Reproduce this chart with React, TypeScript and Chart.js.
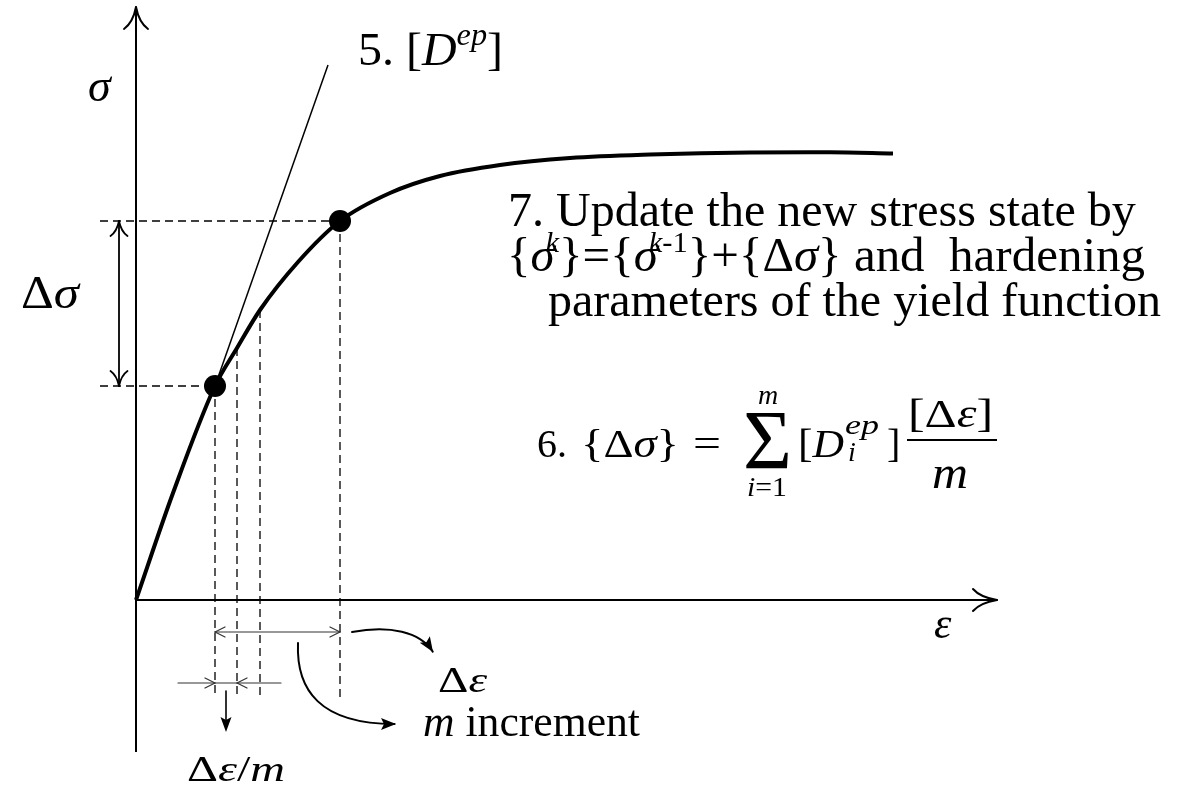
import React, { useEffect, useRef } from "react";
import { Chart, registerables } from "chart.js";

Chart.register(...registerables);

// Stress–strain path, strain ε and stress σ in plot units (origin where the axes cross)
const curveStrain = [0, 3.7, 7.9, 10.1, 12.4, 16.2, 20.4, 25.4, 30.4, 36.4, 43.4, 51.4, 61.4, 69.4, 75.7];
const curveStress = [0, 10.7, 21.4, 25.2, 29.0, 33.8, 37.9, 40.7, 42.4, 43.5, 44.2, 44.55, 44.75, 44.77, 44.65];

// Stress states {σ^(k-1)} and {σ^k}
const stateStrain = [7.9, 20.4];
const stateStress = [21.4, 37.9];

// Sub-increment guides: strain position, top on the curve, bottom below the ε axis
const guideStrain = [7.9, 10.1, 12.4, 20.4];
const guideTop = [21.4, 25.2, 29.0, 37.9];
const guideBottom = [-9.6, -9.7, -10.0, -10.0];
const guideLeft = -3.6;

// Tangent stiffness [D^ep] at state k-1
const tangentStrain = [7.9, 19.2];
const tangentStress = [21.4, 53.5];

// Axis extents
const strainAxis = [0, 86.1];
const stressAxis = [-15.2, 59.3];

// Visible window
const xRange = [-13.6, 105.8];
const yRange = [-18.6, 60.0];

const FONT = "'Liberation Serif', 'Times New Roman', Times, serif";

type Run = { t: string; it?: boolean; s?: number; dy?: number; gap?: number };

function runsWidth(ctx: CanvasRenderingContext2D, runs: Run[], base: number) {
  let w = 0;
  for (const r of runs) {
    ctx.font = `${r.it ? "italic " : ""}${r.s ?? base}px ${FONT}`;
    w += (r.gap ?? 0) + ctx.measureText(r.t).width;
  }
  return w;
}

// draws a run of text pieces; when `width` is given the pieces are stretched horizontally to fill it
function drawRuns(ctx: CanvasRenderingContext2D, x: number, y: number, runs: Run[], base: number, width?: number) {
  const sx = width ? width / runsWidth(ctx, runs, base) : 1;
  let cx = x;
  for (const r of runs) {
    ctx.font = `${r.it ? "italic " : ""}${r.s ?? base}px ${FONT}`;
    cx += (r.gap ?? 0) * sx;
    ctx.save();
    ctx.translate(cx, y + (r.dy ?? 0));
    ctx.scale(sx, 1);
    ctx.fillText(r.t, 0, 0);
    ctx.restore();
    cx += ctx.measureText(r.t).width * sx;
  }
  return cx;
}

function drawCentered(ctx: CanvasRenderingContext2D, cx: number, y: number, runs: Run[], base: number, width?: number) {
  const w = width ?? runsWidth(ctx, runs, base);
  drawRuns(ctx, cx - w / 2, y, runs, base, width);
}

// open chevron head, optionally with flared (curved) wings
function openHead(ctx: CanvasRenderingContext2D, tx: number, ty: number, dx: number, dy: number, len: number, half: number, curved: boolean) {
  const n = Math.hypot(dx, dy);
  const ux = dx / n, uy = dy / n;
  const nx = -uy, ny = ux;
  for (const s of [1, -1]) {
    const wx = tx - ux * len + nx * half * s;
    const wy = ty - uy * len + ny * half * s;
    ctx.beginPath();
    ctx.moveTo(tx, ty);
    if (curved) {
      const cx = tx - ux * len * 0.7 + nx * half * s * 0.25;
      const cy = ty - uy * len * 0.7 + ny * half * s * 0.25;
      ctx.quadraticCurveTo(cx, cy, wx, wy);
    } else {
      ctx.lineTo(wx, wy);
    }
    ctx.stroke();
  }
}

function filledHead(ctx: CanvasRenderingContext2D, tx: number, ty: number, dx: number, dy: number, len: number, half: number) {
  const n = Math.hypot(dx, dy);
  const ux = dx / n, uy = dy / n;
  const nx = -uy, ny = ux;
  ctx.beginPath();
  ctx.moveTo(tx, ty);
  ctx.lineTo(tx - ux * len + nx * half, ty - uy * len + ny * half);
  ctx.lineTo(tx - ux * len * 0.8, ty - uy * len * 0.8);
  ctx.lineTo(tx - ux * len - nx * half, ty - uy * len - ny * half);
  ctx.closePath();
  ctx.fill();
}

// annotation geometry in plot units
const deltaSigmaAt = -1.7;
const deltaEpsAt = -3.2;
const subIncAt = -8.3;
const subIncSpan = [4.2, 14.5];
const downArrow = { at: 9.0, from: -9.1, to: -13.2 };
const curveToDeltaEps = [[21.6, -3.2], [25.4, -2.5], [28.4, -3.2], [29.7, -5.2]];
const curveToIncrement = [[16.2, -4.3], [16.0, -9.0], [18.4, -12.4], [26.0, -12.4]];

const labelPos = {
  tangent: [22.2, 53.5],
  sigma: [-4.8, 49.9],
  dSigma: [-11.5, 29.2],
  update: [[37.2, 37.4], [37.1, 32.9], [41.2, 28.4]],
  formula: [40.1, 14.3],
  eps: [79.8, -3.8],
  dEps: [30.2, -9.2],
  mInc: [28.7, -13.6],
  dEpsM: [5.1, -18.1],
};

const overlay = {
  id: "overlay",
  afterDatasetsDraw(chart: any) {
    const ctx: CanvasRenderingContext2D = chart.ctx;
    const xs = chart.scales.x, ys = chart.scales.y;
    const px = (u: number) => xs.getPixelForValue(u);
    const py = (v: number) => ys.getPixelForValue(v);
    ctx.save();
    ctx.strokeStyle = "#000";
    ctx.fillStyle = "#000";
    ctx.lineCap = "round";

    // axis heads
    ctx.lineWidth = 2;
    openHead(ctx, px(strainAxis[1]), py(0), 1, 0, 24, 11, true);
    openHead(ctx, px(0), py(stressAxis[1]), 0, -1, 22, 12, true);

    // Δσ double arrow
    ctx.lineWidth = 1.8;
    const dsx = px(deltaSigmaAt);
    ctx.beginPath();
    ctx.moveTo(dsx, py(stateStress[1]));
    ctx.lineTo(dsx, py(stateStress[0]));
    ctx.stroke();
    openHead(ctx, dsx, py(stateStress[1]), 0, -1, 15, 8.5, true);
    openHead(ctx, dsx, py(stateStress[0]), 0, 1, 15, 8.5, true);

    // Δε span
    ctx.strokeStyle = "#333";
    ctx.lineWidth = 1.2;
    const dey = py(deltaEpsAt);
    ctx.beginPath();
    ctx.moveTo(px(stateStrain[0]), dey);
    ctx.lineTo(px(stateStrain[1]), dey);
    ctx.stroke();
    openHead(ctx, px(stateStrain[0]), dey, -1, 0, 10, 5, false);
    openHead(ctx, px(stateStrain[1]), dey, 1, 0, 10, 5, false);

    // Δε/m span
    const siy = py(subIncAt);
    ctx.beginPath();
    ctx.moveTo(px(subIncSpan[0]), siy);
    ctx.lineTo(px(subIncSpan[1]), siy);
    ctx.stroke();
    openHead(ctx, px(guideStrain[0]), siy, 1, 0, 10, 5, false);
    openHead(ctx, px(guideStrain[1]), siy, -1, 0, 10, 5, false);

    // arrow down to the Δε/m label
    ctx.strokeStyle = "#000";
    ctx.lineWidth = 1.6;
    ctx.beginPath();
    ctx.moveTo(px(downArrow.at), py(downArrow.from));
    ctx.lineTo(px(downArrow.at), py(downArrow.to) - 8);
    ctx.stroke();
    filledHead(ctx, px(downArrow.at), py(downArrow.to), 0, 1, 15, 5.5);

    // curved arrows
    ctx.lineWidth = 2;
    for (const c of [curveToDeltaEps, curveToIncrement]) {
      const p = c.map(([u, v]) => [px(u), py(v)]);
      ctx.beginPath();
      ctx.moveTo(p[0][0], p[0][1]);
      ctx.bezierCurveTo(p[1][0], p[1][1], p[2][0], p[2][1], p[3][0] - (p[3][0] - p[2][0]) * 0.02, p[3][1] - (p[3][1] - p[2][1]) * 0.02);
      ctx.stroke();
      filledHead(ctx, p[3][0], p[3][1], p[3][0] - p[2][0], p[3][1] - p[2][1], 15, 6);
    }

    // labels
    ctx.textBaseline = "alphabetic";
    ctx.textAlign = "left";
    const at = (p: number[]) => [px(p[0]), py(p[1])];

    let [x, y] = at(labelPos.tangent);
    drawRuns(ctx, x, y, [{ t: "5. [" }, { t: "D", it: true }, { t: "ep", it: true, s: 31, dy: -20 }, { t: "]" }], 46, 145);

    [x, y] = at(labelPos.sigma);
    drawRuns(ctx, x, y, [{ t: "σ", it: true }], 46);

    [x, y] = at(labelPos.dSigma);
    drawRuns(ctx, x, y, [{ t: "Δ" }, { t: "σ", it: true }], 46, 58);

    const upd = labelPos.update.map(at);
    drawRuns(ctx, upd[0][0], upd[0][1], [{ t: "7. Update the new stress state by" }], 48);
    drawRuns(ctx, upd[1][0], upd[1][1], [
      { t: "{" }, { t: "σ", it: true }, { t: "k", it: true, s: 30, dy: -19, gap: -9 },
      { t: "}={" }, { t: "σ", it: true }, { t: "k", it: true, s: 30, dy: -19, gap: -9 }, { t: "-1", s: 30, dy: -19 },
      { t: "}+{Δ" }, { t: "σ", it: true }, { t: "} and  hardening" },
    ], 48, 638);
    drawRuns(ctx, upd[2][0], upd[2][1], [{ t: "parameters of the yield function" }], 48);

    // 6. {Δσ} = Σ_{i=1}^{m} [D_i^ep] [Δε]/m
    [x, y] = at(labelPos.formula);
    const F = 40;
    drawRuns(ctx, x, y, [{ t: "6." }], F);
    drawRuns(ctx, x + 44, y, [{ t: "{" }, { t: "Δ" }, { t: "σ", it: true }, { t: "}" }], F, 98);
    drawRuns(ctx, x + 156, y, [{ t: "=" }], F, 28);
    drawRuns(ctx, x + 206, y + 12, [{ t: "Σ" }], 84, 49);
    drawCentered(ctx, x + 231, y - 53, [{ t: "m", it: true }], 28);
    drawCentered(ctx, x + 230, y + 39, [{ t: "i", it: true }, { t: "=1" }], 28, 40);
    drawRuns(ctx, x + 261, y, [{ t: "[" }, { t: "D", it: true }], F, 46);
    drawRuns(ctx, x + 308, y - 23, [{ t: "ep", it: true }], 28, 34);
    drawRuns(ctx, x + 311, y + 4, [{ t: "i", it: true }], 28);
    drawRuns(ctx, x + 350, y, [{ t: "]" }], F);
    drawRuns(ctx, x + 371, y - 30, [{ t: "[Δ" }, { t: "ε", it: true }, { t: "]" }], F, 85);
    ctx.lineWidth = 2;
    ctx.lineCap = "butt";
    ctx.beginPath();
    ctx.moveTo(x + 370, y - 17);
    ctx.lineTo(x + 460, y - 17);
    ctx.stroke();
    drawRuns(ctx, x + 395, y + 31, [{ t: "m", it: true }], 46, 36);

    [x, y] = at(labelPos.eps);
    drawRuns(ctx, x, y, [{ t: "ε", it: true }], 44);
    [x, y] = at(labelPos.dEps);
    drawRuns(ctx, x, y, [{ t: "Δ" }, { t: "ε", it: true }], 36, 49);
    [x, y] = at(labelPos.mInc);
    drawRuns(ctx, x, y, [{ t: "m", it: true }, { t: " increment" }], 44, 217);
    [x, y] = at(labelPos.dEpsM);
    drawRuns(ctx, x, y, [{ t: "Δ" }, { t: "ε", it: true }, { t: "/" }, { t: "m", it: true }], 36, 98);

    ctx.restore();
  },
};

const zip = (xs: number[], ys: number[]) => xs.map((x, i) => ({ x, y: ys[i] }));

export default function App() {
  const ref = useRef<HTMLCanvasElement | null>(null);

  useEffect(() => {
    document.body.style.margin = "0";
    if (!ref.current) return;
    const line = (data: any[], extra: any = {}) => ({
      data,
      showLine: true,
      borderColor: "#000",
      borderWidth: 1.3,
      pointRadius: 0,
      fill: false,
      ...extra,
    });
    const dash = { borderDash: [8, 5], borderWidth: 1.3 };

    const datasets: any[] = [
      line([{ x: strainAxis[0], y: 0 }, { x: strainAxis[1], y: 0 }], { borderWidth: 2 }),
      line([{ x: 0, y: stressAxis[0] }, { x: 0, y: stressAxis[1] }], { borderWidth: 2 }),
      line([{ x: guideLeft, y: stateStress[0] }, { x: stateStrain[0], y: stateStress[0] }], dash),
      line([{ x: guideLeft, y: stateStress[1] }, { x: stateStrain[1], y: stateStress[1] }], dash),
      ...guideStrain.map((g, i) =>
        line([{ x: g, y: guideTop[i] }, { x: g, y: guideBottom[i] }], dash)
      ),
      line(zip(tangentStrain, tangentStress), { borderWidth: 1.5 }),
      line(zip(curveStrain, curveStress), { borderWidth: 4, cubicInterpolationMode: "monotone", tension: 0.4 }),
      {
        data: zip(stateStrain, stateStress),
        showLine: false,
        pointRadius: 11,
        pointBackgroundColor: "#000",
        pointBorderWidth: 0,
      },
    ];

    const chart = new Chart(ref.current, {
      type: "scatter",
      data: { datasets },
      options: {
        animation: false,
        responsive: false,
        events: [],
        layout: { padding: 0, autoPadding: false },
        plugins: { legend: { display: false }, tooltip: { enabled: false } },
        scales: {
          x: { type: "linear", min: xRange[0], max: xRange[1], display: false },
          y: { type: "linear", min: yRange[0], max: yRange[1], display: false },
        },
      },
      plugins: [overlay],
    } as any);
    return () => chart.destroy();
  }, []);

  return (
    <div style={{ width: 1194, height: 786, background: "#fff" }}>
      <canvas ref={ref} width={1194} height={786} />
    </div>
  );
}
